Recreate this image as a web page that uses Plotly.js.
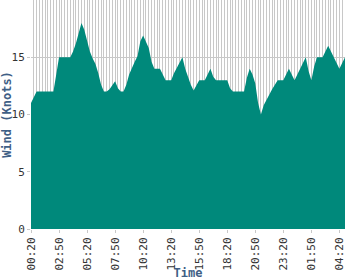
<!DOCTYPE html>
<html>
<head>
<meta charset="utf-8">
<script src="https://cdn.plot.ly/plotly-3.0.1.min.js"></script>
<style>html,body{margin:0;padding:0;background:#fff;}#chart{width:350px;height:280px;}</style>
</head>
<body>
<div id="chart"></div>
<script>
// Time of each reading (15-minute steps, one short gap late morning)
const times = [
"00:20","00:35","00:50","01:05","01:20","01:35","01:50","02:05","02:20","02:35",
"02:50","03:05","03:20","03:35","03:50","04:05","04:20","04:35","04:50","05:05",
"05:20","05:35","05:50","06:05","06:20","06:35","06:50","07:05","07:20","07:35",
"07:50","08:05","08:20","08:35","08:50","09:05","09:20","09:35","09:50","10:05",
"10:20","10:35","10:50","11:05","11:50","12:05","12:20","12:35","12:50","13:05",
"13:20","13:35","13:50","14:05","14:20","14:35","14:50","15:05","15:20","15:35",
"15:50","16:05","16:20","16:35","16:50","17:05","17:20","17:35","17:50","18:05",
"18:20","18:35","18:50","19:05","19:20","19:35","19:50","20:05","20:20","20:35",
"20:50","21:05","21:20","21:35","21:50","22:05","22:20","22:35","22:50","23:05",
"23:20","23:35","23:50","00:05","00:20","00:35","00:50","01:05","01:20","01:35",
"01:50","02:05","02:20","02:35","02:50","03:05","03:20","03:35","03:50","04:05",
"04:20","04:35","04:50"
];

// Wind speed in knots
const wind = [
11,11.5,12,12,12,12,12,12,12,13.5,
15,15,15,15,15,15.5,16.2,17.1,18,17.4,
16.5,15.5,14.9,14.4,13.6,12.6,12,12,12.2,12.6,
12.9,12.3,12,12,12.6,13.5,14.1,14.6,15.1,16.4,
16.9,16.4,15.8,14.6,14,14,14,13.5,13,13,
13,13.6,14.1,14.6,15,14,13.2,12.6,12.1,12.6,
13,13,13,13.5,14,13.3,13,13,13,13,
13,12.3,12,12,12,12,12,13.2,14,13.5,
12.7,11,10,10.8,11.3,11.8,12.2,12.6,13,13,
13,13.5,14,13.5,13,13.5,14,14.5,15,13.8,
13,14.2,15,15,15,15.5,16,15.5,15,14.5,
14,14.5,15
];

// Labelled tick positions (every 10th reading)
const tickIndex = [0,10,20,30,40,50,60,70,80,90,100,110];
const tickLabels = tickIndex.map(i => times[i]);

const xPos = times.map((t, i) => i);

const trace = {
  x: xPos,
  y: wind,
  type: 'scatter',
  mode: 'lines',
  fill: 'tozeroy',
  fillcolor: '#00897b',
  line: {color: '#00897b', width: 0},
  hoverinfo: 'skip'
};

const tickFont = {family: 'DejaVu Sans Mono, monospace', size: 11, color: '#333333'};
const titleFont = {family: 'DejaVu Sans Mono, monospace', size: 12, color: '#3f5f86', weight: 'bold'};

const layout = {
  width: 350,
  height: 280,
  margin: {l: 31, r: 5, t: 0, b: 51},
  paper_bgcolor: '#ffffff',
  plot_bgcolor: '#ffffff',
  showlegend: false,
  xaxis: {
    type: 'linear',
    range: [0, times.length - 1],
    tickmode: 'array',
    tickvals: tickIndex,
    ticktext: tickLabels,
    tickangle: -90,
    tickfont: tickFont,
    ticks: 'outside',
    ticklen: 3,
    tickcolor: '#c8c8c8',
    showgrid: true,
    gridcolor: '#c8c8c8',
    gridwidth: 1,
    minor: {dtick: 1, tick0: 0, showgrid: true, gridcolor: '#c8c8c8', gridwidth: 1, ticks: ''},
    zeroline: false,
    showline: false,
    title: {text: 'Time', font: titleFont, standoff: 4}
  },
  yaxis: {
    range: [0, 20],
    tickmode: 'array',
    tickvals: [0, 5, 10, 15],
    tickfont: tickFont,
    ticks: 'outside',
    ticklen: 3,
    tickcolor: '#c8c8c8',
    showgrid: true,
    gridcolor: '#c8c8c8',
    gridwidth: 1,
    zeroline: false,
    showline: false,
    title: {text: 'Wind (Knots)', font: titleFont, standoff: 4}
  }
};

Plotly.newPlot('chart', [trace], layout, {displayModeBar: false, staticPlot: true});
</script>
</body>
</html>
